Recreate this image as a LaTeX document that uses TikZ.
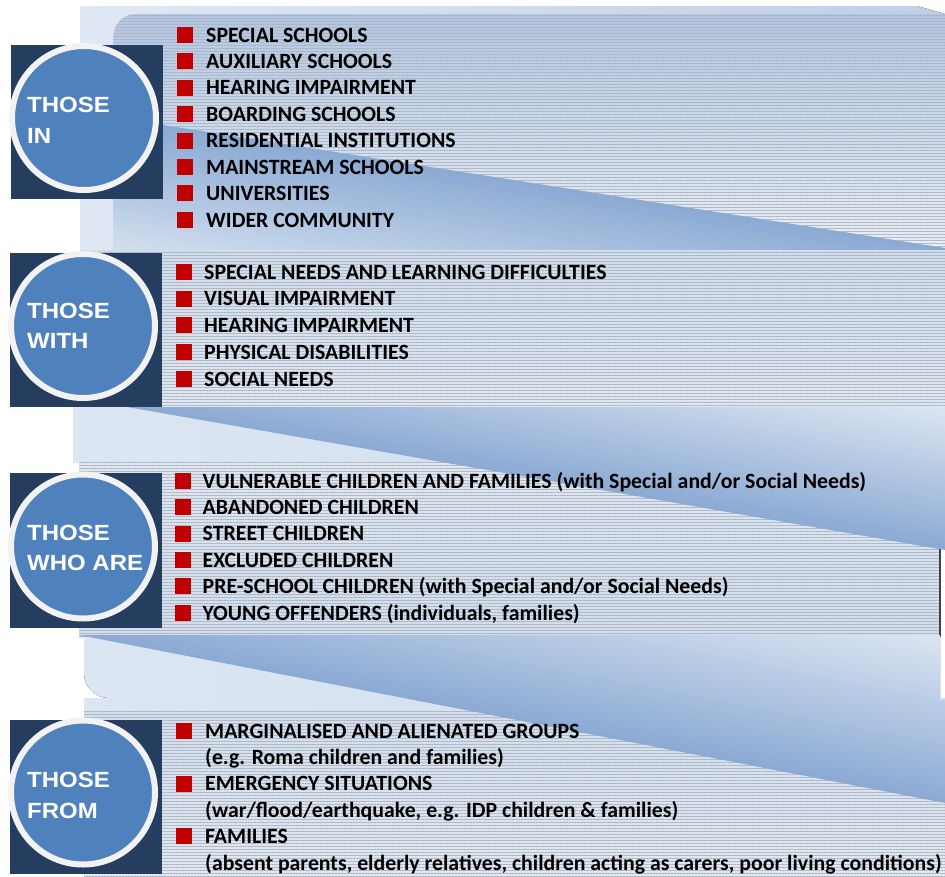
\documentclass[tikz,border=0pt]{standalone}
\usepackage{fontspec}
\setmainfont{Carlito}
\newfontfamily\discfont[FakeStretch=1.09]{Liberation Sans}
\usetikzlibrary{patterns.meta}

\definecolor{navy}{HTML}{253D5E}
\definecolor{discblue}{HTML}{4F81BD}
\definecolor{ringgray}{HTML}{F2F2F2}
\definecolor{bulletred}{HTML}{C00000}
\definecolor{hatchgray}{HTML}{AEB5BF}
\definecolor{edgegray}{HTML}{3A4250}
\definecolor{paleA}{HTML}{DCE6F2}
\definecolor{paleB}{HTML}{CFDCEE}
\definecolor{foldmid}{HTML}{8AA9D3}
\definecolor{foldhalf}{HTML}{99B5DA}
\definecolor{foldlight}{HTML}{DDE6F2}

\tikzset{
  hatched/.style={pattern={Lines[angle=0,distance=3pt,line width=0.35pt]}, pattern color=hatchgray},
  sidebox/.style={fill=navy, draw=none, inner sep=0pt, anchor=north west},
  disc/.style={circle, fill=discblue, draw=ringgray, line width=6pt, minimum size=144pt, inner sep=0pt},
  disclabel/.style={anchor=base west, inner sep=0pt, text=white, font=\discfont\bfseries\fontsize{22}{26}\selectfont},
  entry/.style={anchor=base west, inner sep=0pt, font=\bfseries\fontsize{21.8}{26}\selectfont},
  redsq/.style={fill=bulletred, draw=none, minimum size=16pt, inner sep=0pt, anchor=south west},
  fold/.style={top color=foldlight, middle color=foldhalf, bottom color=foldmid},
  gap/.style={left color=paleA, right color=paleB},
}

\begin{document}
\begin{tikzpicture}[x=1pt, y=-1pt]
\useasboundingbox (0,0) rectangle (945,876);

% ---- first sheet: light page, hatched top and folded blue wedge
\fill[left color={rgb,255:red,224;green,232;blue,244}, right color={rgb,255:red,190;green,207;blue,230}]
  (80,6) -- (917,6) -- (945,14) -- (945,250) -- (80,250) -- cycle;
\path[top color={rgb,255:red,176;green,198;blue,228}, bottom color={rgb,255:red,232;green,238;blue,246}, postaction={hatched}]
  (113,117) -- (113,42) .. controls (113,24) and (121,14) .. (138,14) -- (945,14) -- (945,248) -- cycle;
% wedge below the first fold line, shaded along lines parallel to it
\begin{scope}
  \clip (113,117) -- (945,248) -- (945,250) -- (113,250) -- cycle;
  \begin{scope}[transform canvas={yslant=-0.1575}]
    \shade[top color=foldmid, middle color=foldhalf, bottom color={rgb,255:red,212;green,224;blue,239}]
      (105,98) rectangle (950,234);
  \end{scope}
\end{scope}

% ---- second sheet
\path[top color={rgb,255:red,208;green,221;blue,238}, bottom color={rgb,255:red,222;green,231;blue,242}, postaction={hatched}]
  (80,250) rectangle (945,407);
\fill[gap] (73,407) rectangle (945,462);

% ---- third sheet
\path[top color={rgb,255:red,222;green,231;blue,242}, bottom color={rgb,255:red,208;green,221;blue,238}, postaction={hatched}]
  (79,462) rectangle (940,637);
\begin{scope}
  \clip (127,407) -- (945,407) -- (945,550) -- cycle;
  \begin{scope}[transform canvas={yslant=-0.1748}]
    \shade[fold] (120,240) rectangle (950,386);
  \end{scope}
\end{scope}
\draw[edgegray, line width=1.5pt] (940,549) -- (940,637);

% ---- fourth sheet
\fill[gap]
  (84,637) -- (940,637) -- (940,698) -- (109,698) .. controls (95,698) and (84,687) .. (84,673) -- cycle;
\fill[gap] (84,698) rectangle (945,711);
\path[top color={rgb,255:red,210;green,222;blue,238}, bottom color={rgb,255:red,224;green,232;blue,243}, postaction={hatched}]
  (84,711) rectangle (945,876);
\begin{scope}
  \clip (79,635) -- (940,635) -- (940,700) -- (945,700) -- (945,803) -- cycle;
  \begin{scope}[transform canvas={yslant=-0.194}]
    \shade[fold] (72,450) rectangle (950,621);
  \end{scope}
\end{scope}

% ---- side boxes with discs
\node[sidebox, minimum width=152pt, minimum height=154pt] (box1) at (11,45) {};
\node[sidebox, minimum width=152pt, minimum height=154pt] (box2) at (10,253) {};
\node[sidebox, minimum width=152pt, minimum height=155pt] (box3) at (10,473) {};
\node[sidebox, minimum width=152pt, minimum height=154pt] (box4) at (10,720) {};

\node[disc] (disc1) at (84,118) {};
\node[disc] (disc2) at (83,326) {};
\node[disc] (disc3) at (83,546.5) {};
\node[disc] (disc4) at (83,792.5) {};

\node[disclabel] (l1a) at (27,112) {THOSE};
\node[disclabel] (l1b) at (27,143) {IN};
\node[disclabel] (l2a) at (27,318) {THOSE};
\node[disclabel] (l2b) at (27,348) {WITH};
\node[disclabel] (l3a) at (27,540) {THOSE};
\node[disclabel] (l3b) at (27,570) {WHO ARE};
\node[disclabel] (l4a) at (27,787) {THOSE};
\node[disclabel] (l4b) at (27,818) {FROM};

% ---- lists
\foreach \t [count=\i from 0] in {SPECIAL SCHOOLS, AUXILIARY SCHOOLS, HEARING IMPAIRMENT, BOARDING SCHOOLS, RESIDENTIAL INSTITUTIONS, MAINSTREAM SCHOOLS, UNIVERSITIES, WIDER COMMUNITY} {
  \node[redsq] (b1-\i) at (177,{43+26.43*\i}) {};
  \node[entry] (e1-\i) at (206,{42+26.43*\i}) {\t};
}
\foreach \t [count=\i from 0] in {SPECIAL NEEDS AND LEARNING DIFFICULTIES, VISUAL IMPAIRMENT, HEARING IMPAIRMENT, PHYSICAL DISABILITIES, SOCIAL NEEDS} {
  \node[redsq] (b2-\i) at (176,{280+26.75*\i}) {};
  \node[entry] (e2-\i) at (204,{279+26.75*\i}) {\t};
}
\foreach \t [count=\i from 0] in {{VULNERABLE CHILDREN AND FAMILIES (with Special and/or Social Needs)}, ABANDONED CHILDREN, STREET CHILDREN, EXCLUDED CHILDREN, {PRE-SCHOOL CHILDREN (with Special and/or Social Needs)}, {YOUNG OFFENDERS (individuals, families)}} {
  \node[redsq] (b3-\i) at (174.5,{489+26.4*\i}) {};
  \node[entry] (e3-\i) at (202.5,{488+26.4*\i}) {\t};
}
\node[redsq] (b4-0) at (176,739) {};
\node[entry] (e4-0) at (205,738) {MARGINALISED AND ALIENATED GROUPS};
\node[entry] (e4-1) at (205,764.4) {(e.g. Roma children and families)};
\node[redsq] (b4-2) at (176,791.8) {};
\node[entry] (e4-2) at (205,790.8) {EMERGENCY SITUATIONS};
\node[entry] (e4-3) at (205,817.2) {(war/flood/earthquake, e.g. IDP children \& families)};
\node[redsq] (b4-4) at (176,844.6) {};
\node[entry] (e4-4) at (205,843.6) {FAMILIES};
\node[entry] (e4-5) at (205,870) {(absent parents, elderly relatives, children acting as carers, poor living conditions)};
\end{tikzpicture}
\end{document}
